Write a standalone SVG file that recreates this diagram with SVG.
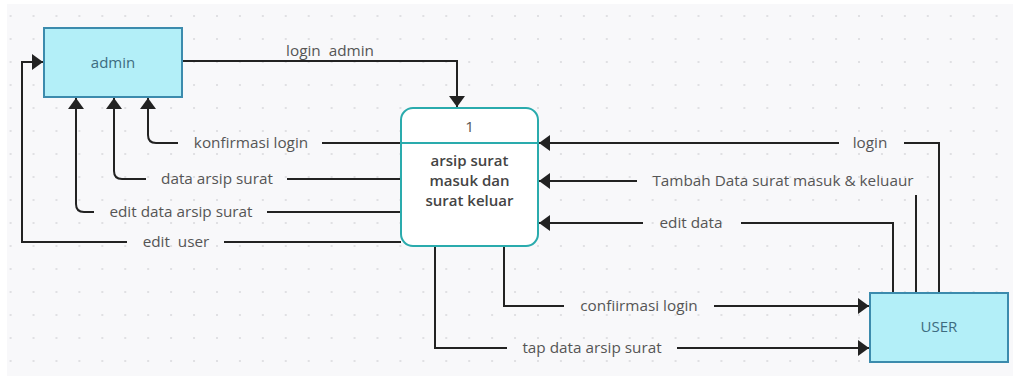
<svg xmlns="http://www.w3.org/2000/svg" width="1013" height="376" viewBox="0 0 1013 376">
<defs>
<pattern id="dots" x="10.6" y="16" width="22.93" height="23" patternUnits="userSpaceOnUse">
<circle cx="0" cy="0" r="1.1" fill="#dadade"/>
<circle cx="22.93" cy="0" r="1.1" fill="#dadade"/>
<circle cx="0" cy="23" r="1.1" fill="#dadade"/>
<circle cx="22.93" cy="23" r="1.1" fill="#dadade"/>
</pattern>
<marker id="arr" markerUnits="userSpaceOnUse" markerWidth="12" markerHeight="17" refX="11" refY="8" orient="auto">
<path d="M0,0 L11,8 L0,16 z" fill="#222"/>
</marker>
<style>
.bg{fill:#f8f8fa}
.ent{fill:#b3eff8;stroke:#3c8bad;stroke-width:2}
.entt{font-family:"Open Sans","Noto Sans",sans-serif;font-size:15px;fill:#3d6c80;text-anchor:middle}
.proc{fill:#fff;stroke:#2aabad;stroke-width:2}
.proct{font-family:"Open Sans","Noto Sans",sans-serif;font-size:15px;fill:#444;text-anchor:middle;font-weight:600}
.c{fill:none;stroke:#222;stroke-width:2}
.lbl{font-family:"Open Sans","Noto Sans",sans-serif;font-size:15.3px;fill:#555;text-anchor:middle;white-space:pre}
</style>
</defs>
<rect x="0" y="0" width="1013" height="376" fill="#fff"/>
<rect class="bg" x="7" y="4" width="1006" height="372"/>
<rect x="7" y="4" width="1006" height="372" fill="url(#dots)"/>

<g id="connectors">
<path class="c" d="M183,61 H457 V107" marker-end="url(#arr)"/>
<text class="lbl" x="330" y="56">login  admin</text>

<path class="c" d="M401,143 H322"/>
<path class="c" d="M178,143 H156 Q148,143 148,135 V98" marker-end="url(#arr)"/>
<text class="lbl" x="251" y="148">konfirmasi login</text>

<path class="c" d="M401,179 H287"/>
<path class="c" d="M146,179 H122 Q114,179 114,171 V98" marker-end="url(#arr)"/>
<text class="lbl" x="217" y="184">data arsip surat</text>

<path class="c" d="M401,212 H267"/>
<path class="c" d="M94,212 H84 Q76,212 76,204 V98" marker-end="url(#arr)"/>
<text class="lbl" x="181" y="217">edit data arsip surat</text>

<path class="c" d="M401,242 H224"/>
<path class="c" d="M127,242 H22 V62 H43" marker-end="url(#arr)"/>
<text class="lbl" x="176" y="247">edit  user</text>

<path class="c" d="M939,293 V143 H904"/>
<path class="c" d="M839,143 H539" marker-end="url(#arr)"/>
<text class="lbl" x="870" y="148">login</text>

<path class="c" d="M916,293 V195"/>
<path class="c" d="M637,181 H539" marker-end="url(#arr)"/>
<text class="lbl" x="783" y="186">Tambah Data surat masuk &amp; keluaur</text>

<path class="c" d="M893,293 V223 H741"/>
<path class="c" d="M643,223 H539" marker-end="url(#arr)"/>
<text class="lbl" x="691" y="228">edit data</text>

<path class="c" d="M504,246 V306 H564"/>
<path class="c" d="M714,306 H869" marker-end="url(#arr)"/>
<text class="lbl" x="639" y="311">confiirmasi login</text>

<path class="c" d="M435,246 V348 H507"/>
<path class="c" d="M677,348 H869" marker-end="url(#arr)"/>
<text class="lbl" x="592" y="353">tap data arsip surat</text>
</g>

<g id="admin">
<rect class="ent" x="44" y="28" width="138" height="69"/>
<text class="entt" x="113" y="68">admin</text>
</g>

<g id="process1">
<rect class="proc" x="401" y="108" width="137" height="138" rx="12"/>
<line x1="401" y1="143" x2="538" y2="143" stroke="#2aabad" stroke-width="2"/>
<text class="lbl" x="469.5" y="132">1</text>
<text class="proct" x="469.5" y="166">arsip surat</text>
<text class="proct" x="469.5" y="186">masuk dan</text>
<text class="proct" x="469.5" y="206">surat keluar</text>
</g>

<g id="user">
<rect class="ent" x="870" y="293" width="138" height="69"/>
<text class="entt" x="939" y="332">USER</text>
</g>
</svg>
